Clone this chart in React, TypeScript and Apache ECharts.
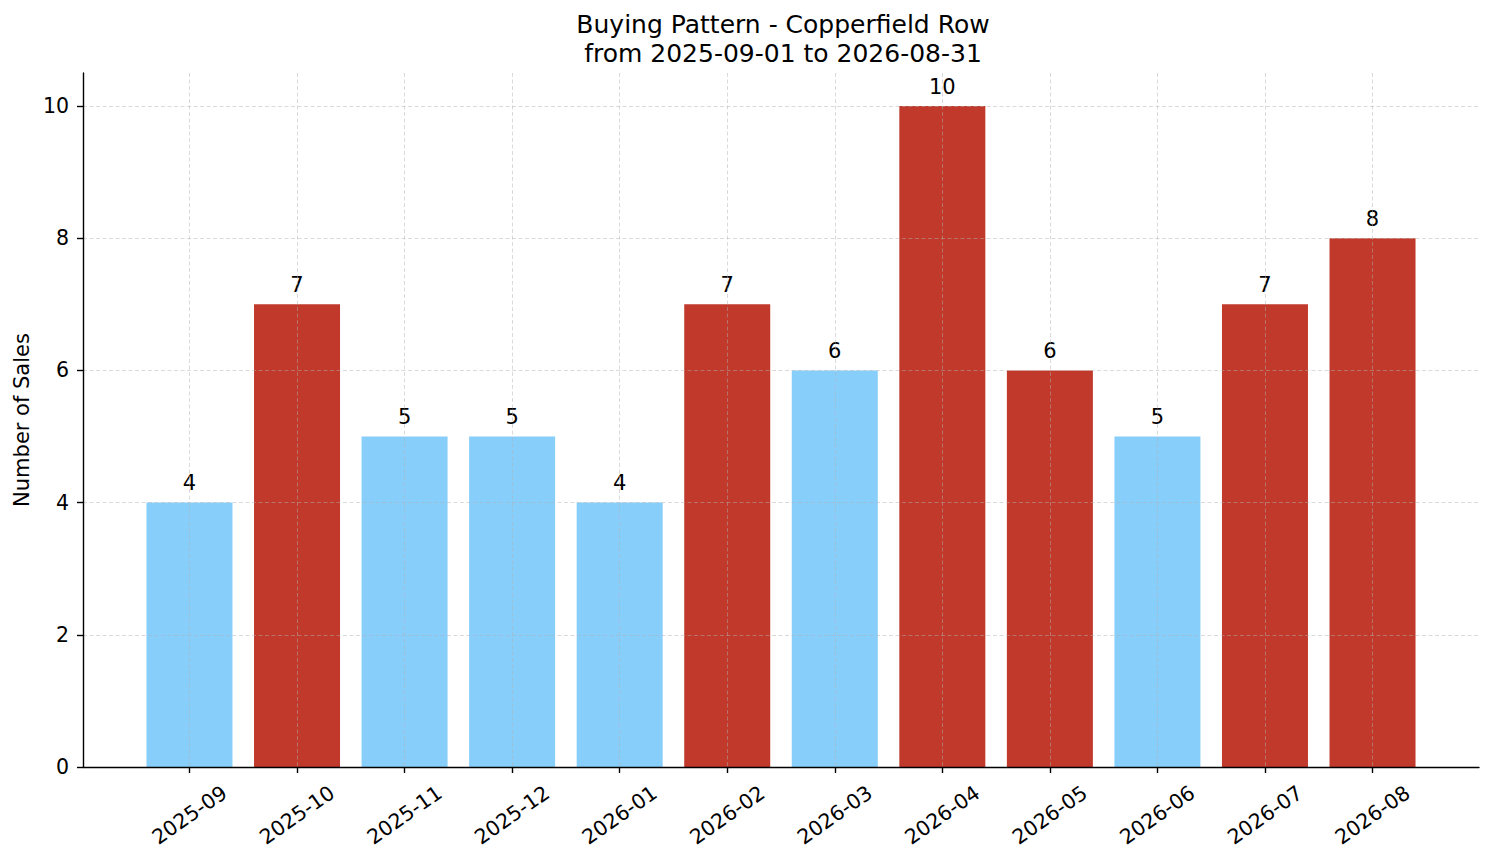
import React, { useEffect, useRef } from "react";
import * as echarts from "echarts";

// monthly sales, Copperfield Row
const months = [
  "2025-09", "2025-10", "2025-11", "2025-12", "2026-01", "2026-02",
  "2026-03", "2026-04", "2026-05", "2026-06", "2026-07", "2026-08",
];
const sales = [4, 7, 5, 5, 4, 7, 6, 10, 6, 5, 7, 8];
const highlighted = [false, true, false, false, false, true, false, true, true, false, true, true];
const yTicks = [0, 2, 4, 6, 8, 10];

const BLUE = "#87CEFA";
const RED = "#C0392B";
const FONT = "DejaVu Sans";

const App: React.FC = () => {
  const chartRef = useRef<HTMLDivElement | null>(null);

  useEffect(() => {
    document.body.style.margin = "0";
    if (!chartRef.current) return;
    const chart = echarts.init(chartRef.current, null, { renderer: "svg" });

    const xTicks = months.map((_, i) => i);
    const gridLine = {
      show: true,
      lineStyle: { color: "rgba(176,176,176,0.6)", width: 0.8, type: [4, 2.5] },
    };
    const axisLine = { show: true, onZero: false, lineStyle: { color: "#000", width: 1.4 } };
    const axisTick = { show: true, inside: false, length: 6, lineStyle: { color: "#000", width: 1.4 } };

    chart.setOption({
      animation: false,
      textStyle: { fontFamily: FONT },
      title: {
        text: "Buying Pattern - Copperfield Row\nfrom 2025-09-01 to 2026-08-31",
        left: 778,
        top: 5,
        textAlign: "center",
        textStyle: {
          fontFamily: FONT,
          fontWeight: "normal",
          fontSize: 25,
          lineHeight: 29,
          color: "#000",
        },
      },
      grid: {
        left: 83,
        right: 15,
        top: 73,
        bottom: 96,
        containLabel: false,
        outerBoundsMode: "none",
      },
      xAxis: {
        type: "value",
        min: -0.99,
        max: 11.99,
        z: 3,
        axisLine,
        axisTick: { ...axisTick, customValues: xTicks },
        axisLabel: {
          customValues: xTicks,
          rotate: 35,
          align: "center",
          verticalAlign: "middle",
          margin: 48,
          fontSize: 20.5,
          color: "#000",
          formatter: (v: number) => months[Math.round(v)] ?? "",
        },
        splitLine: { ...gridLine, customValues: xTicks },
      },
      yAxis: {
        type: "value",
        min: 0,
        max: 10.5,
        z: 3,
        name: "Number of Sales",
        nameLocation: "middle",
        nameGap: 50,
        nameTextStyle: { fontSize: 21, fontFamily: FONT, color: "#000" },
        axisLine,
        axisTick: { ...axisTick, customValues: yTicks },
        axisLabel: {
          customValues: yTicks,
          margin: 14,
          fontSize: 20.5,
          color: "#000",
        },
        splitLine: { ...gridLine, customValues: yTicks },
      },
      series: [
        {
          type: "bar",
          z: 1,
          barWidth: 86,
          data: sales.map((v, i) => ({
            value: [i, v],
            itemStyle: { color: highlighted[i] ? RED : BLUE },
          })),
          label: {
            show: true,
            position: "top",
            distance: 9,
            fontSize: 21,
            fontFamily: FONT,
            color: "#000",
            formatter: (p: any) => String(p.value[1]),
          },
        },
      ],
    });

    return () => {
      chart.dispose();
    };
  }, []);

  return <div ref={chartRef} style={{ width: "1494px", height: "863px" }} />;
};

export default App;
